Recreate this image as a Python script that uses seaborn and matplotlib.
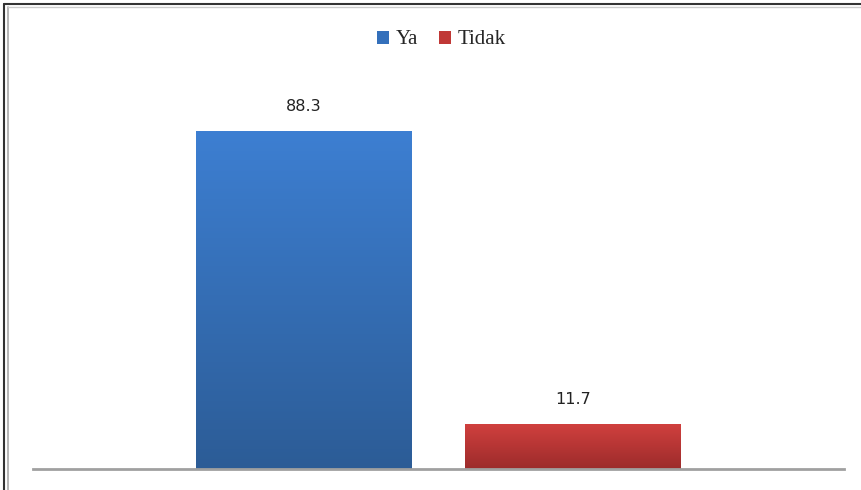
import numpy as np
import pandas as pd
import seaborn as sns
import matplotlib.pyplot as plt
from matplotlib.colors import LinearSegmentedColormap
from matplotlib.lines import Line2D
from matplotlib.patches import Patch

sns.set_theme(style="white")
plt.rcParams["font.family"] = ["DejaVu Sans"]

# data
series = ["Ya", "Tidak"]
values = [88.3, 11.7]
group = [""] * len(series)

top_colors = {"Ya": "#3d7fd2", "Tidak": "#d0403e"}
bottom_colors = {"Ya": "#2c5c96", "Tidak": "#9c2b2b"}
mid_colors = {"Ya": "#3470bb", "Tidak": "#c03836"}

df = pd.DataFrame({"group": group, "series": series, "value": values})

fig = plt.figure(figsize=(8.61, 4.9), dpi=100)
ax = fig.add_axes([33 / 861, 1 - 468.5 / 490, (844 - 33) / 861, (468.5 - 86.3) / 490])

sns.barplot(data=df, x="group", y="value", hue="series", hue_order=series,
            palette=mid_colors, width=0.665, gap=0.2, legend=False,
            linewidth=0, ax=ax)

ax.set_ylim(0, 100)
ax.set_xlim(-0.5, 0.5)

# vertical gradient on each bar
for patch, s, v in zip(ax.patches, series, values):
    x0, y0 = patch.get_x(), patch.get_y()
    w, h = patch.get_width(), patch.get_height()
    cmap = LinearSegmentedColormap.from_list(s, [bottom_colors[s], top_colors[s]])
    grad = np.linspace(0, 1, 256).reshape(-1, 1)
    im = ax.imshow(grad, extent=[x0, x0 + w, y0, y0 + h], origin="lower",
                   aspect="auto", cmap=cmap, zorder=patch.get_zorder() + 0.1)
    im.set_clip_path(patch)
    ax.annotate(f"{v:.1f}", (x0 + w / 2, y0 + h), xytext=(0, 12),
                textcoords="offset points", ha="center", va="bottom",
                fontsize=11.5, color="#222222")

ax.set_ylim(0, 100)
ax.set_xlim(-0.5, 0.5)

ax.set_xlabel("")
ax.set_ylabel("")
ax.set_xticks([])
ax.set_yticks([])
for side in ["top", "right", "left"]:
    ax.spines[side].set_visible(False)
ax.spines["bottom"].set_color("#a0a0a0")
ax.spines["bottom"].set_linewidth(2)

handles = [Patch(facecolor=mid_colors[s], edgecolor="none", label=s) for s in series]
fig.legend(handles=handles, loc="center", bbox_to_anchor=(441 / 861, 1 - 40 / 490),
           ncol=2, frameon=False, handlelength=0.6, handleheight=0.6,
           handletextpad=0.3, columnspacing=1.0,
           prop={"family": "Liberation Serif", "size": 15})

# outer border (top and left, double line)
fig.add_artist(Line2D([3.5 / 861, 1], [1 - 4.5 / 490] * 2, color="#333333", lw=1.5))
fig.add_artist(Line2D([3.5 / 861] * 2, [0, 1 - 4.5 / 490], color="#333333", lw=1.5))
fig.add_artist(Line2D([8 / 861] * 2, [0, 1 - 7.5 / 490], color="#aaaaaa", lw=1.2))
fig.add_artist(Line2D([8 / 861, 1], [1 - 7.5 / 490] * 2, color="#cccccc", lw=1.0))

fig.savefig("out.png", dpi=100)
